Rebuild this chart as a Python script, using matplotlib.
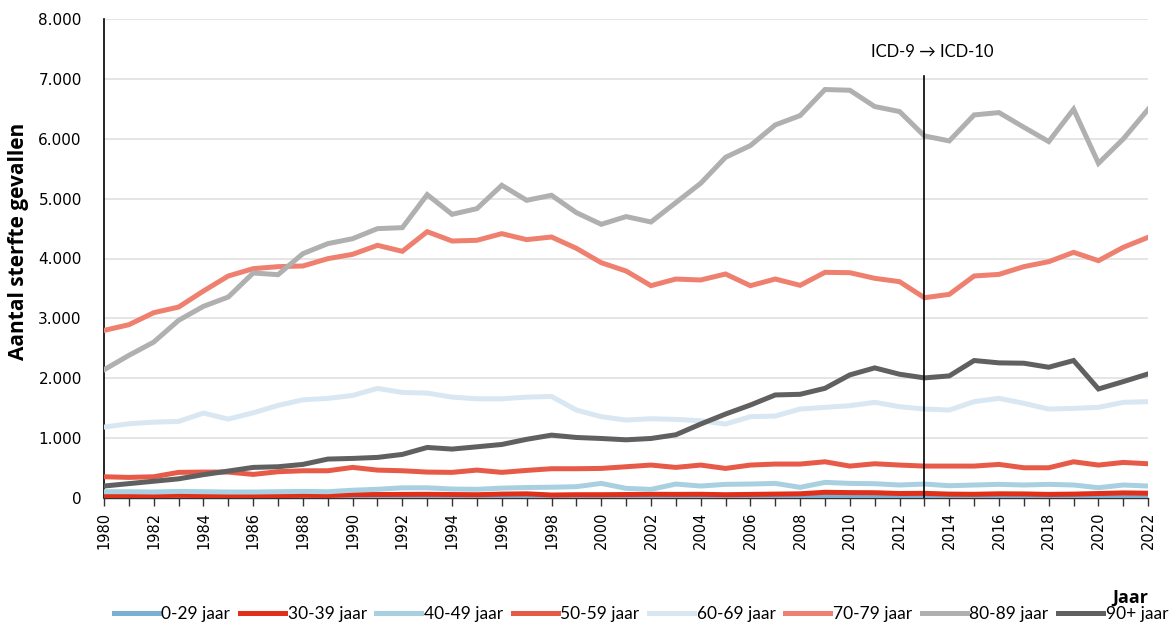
import matplotlib
matplotlib.use("Agg")
import matplotlib.pyplot as plt
import numpy as np

years = list(range(1980, 2023))

age_0_29 = [15, 15, 14, 15, 14, 14, 13, 14, 13, 12, 14, 15, 14, 15, 14, 13, 14, 15, 12, 12,
            13, 14, 15, 16, 17, 16, 18, 20, 22, 35, 38, 36, 25, 20, 18, 17, 18, 17, 16, 15, 15, 18, 16]
age_30_39 = [40, 42, 38, 45, 40, 42, 38, 40, 45, 42, 55, 58, 60, 62, 58, 55, 65, 70, 50, 55,
             55, 58, 62, 60, 62, 55, 60, 65, 70, 95, 90, 88, 75, 78, 65, 62, 70, 68, 60, 65, 75, 85, 80]
age_40_49 = [105, 105, 100, 110, 105, 100, 100, 105, 110, 105, 130, 145, 170, 170, 150, 145, 165, 175, 180, 189,
             244, 161, 144, 233, 200, 228, 233, 244, 178, 261, 244, 239, 217, 233, 205, 217, 228, 217, 228, 217, 172, 217, 200]
age_50_59 = [355, 344, 355, 428, 433, 433, 394, 439, 455, 455, 511, 466, 455, 433, 428, 466, 428, 461, 489, 489,
             494, 522, 550, 511, 550, 494, 550, 567, 567, 605, 533, 572, 550, 533, 533, 533, 561, 505, 505, 605, 550, 594, 572]
age_60_69 = [1184, 1240, 1267, 1279, 1418, 1318, 1423, 1546, 1640, 1663, 1713, 1830, 1763, 1752, 1685, 1657, 1657, 1685, 1696, 1469,
             1358, 1302, 1324, 1313, 1290, 1235, 1358, 1369, 1486, 1514, 1542, 1598, 1525, 1486, 1469, 1609, 1665, 1581, 1486, 1497, 1514, 1598, 1609]
age_70_79 = [2799, 2894, 3095, 3189, 3457, 3708, 3830, 3864, 3875, 3997, 4070, 4220, 4120, 4448, 4292, 4304, 4415, 4315, 4359, 4170,
             3930, 3791, 3546, 3657, 3641, 3741, 3546, 3657, 3552, 3769, 3763, 3669, 3613, 3345, 3401, 3708, 3735, 3864, 3947, 4103, 3964, 4187, 4354]
age_80_89 = [2142, 2382, 2604, 2967, 3201, 3357, 3758, 3730, 4081, 4248, 4331, 4499, 4515, 5067, 4738, 4833, 5223, 4972, 5056, 4766,
             4571, 4700, 4610, 4933, 5256, 5690, 5886, 6231, 6387, 6822, 6810, 6538, 6454, 6047, 5964, 6398, 6437, 6192, 5953, 6493, 5590, 5997, 6493]
age_90_plus = [200, 240, 280, 320, 390, 450, 511, 522, 561, 650, 661, 678, 728, 844, 817, 855, 894, 980, 1050, 1011,
               994, 972, 994, 1056, 1235, 1402, 1553, 1721, 1732, 1832, 2056, 2173, 2067, 2006, 2039, 2296, 2257, 2251, 2184, 2296, 1821, 1944, 2073]

labels = ["0-29 jaar", "30-39 jaar", "40-49 jaar", "50-59 jaar", "60-69 jaar", "70-79 jaar", "80-89 jaar", "90+ jaar"]
series = [age_0_29, age_30_39, age_40_49, age_50_59, age_60_69, age_70_79, age_80_89, age_90_plus]
colors = ["#7bb0d5", "#e0301a", "#a9d0e0", "#e85a48", "#d9e7f2", "#ef8070", "#b0b0b0", "#606060"]

yticks = [0, 1000, 2000, 3000, 4000, 5000, 6000, 7000, 8000]
ytick_labels = ["0", "1.000", "2.000", "3.000", "4.000", "5.000", "6.000", "7.000", "8.000"]
icd_year = 2013
icd_text = "ICD-9 \u2192 ICD-10"

fig = plt.figure(figsize=(11.74, 6.25), dpi=100)
ax = fig.add_axes([0.0886, 0.2032, 0.978 - 0.0886, 0.9696 - 0.2032])

draw_order = [6, 5, 4, 7, 3, 2, 1, 0]
handles = {}
for i in draw_order:
    (h,) = ax.plot(years, series[i], color=colors[i], lw=3.6, label=labels[i],
                   solid_joinstyle="miter", zorder=3 + i * 0.01)
    handles[i] = h

ax.set_xlim(1980, 2022)
ax.set_ylim(0, 8000)
ax.set_yticks(yticks)
ax.set_yticklabels(ytick_labels, fontsize=11)
ax.tick_params(axis="y", length=0, pad=16)
ax.set_xticks(years, minor=False)
ax.set_xticklabels([str(y) if y % 2 == 0 else "" for y in years], rotation=90, fontsize=10.5)
ax.tick_params(axis="x", length=6, width=1, direction="out", color="#333333", pad=4)
ax.grid(axis="y", color="#e0e0e0", lw=1.2, zorder=0)
ax.set_axisbelow(True)
for s in ["top", "right"]:
    ax.spines[s].set_visible(False)
ax.spines["left"].set_color("black")
ax.spines["left"].set_linewidth(1.2)
ax.spines["bottom"].set_color("#333333")
ax.spines["bottom"].set_linewidth(1.0)

ax.plot([icd_year, icd_year], [0, 7050], color="black", lw=1.2, zorder=10)
ax.text(icd_year + 0.3, 7450, icd_text, ha="center", va="center", fontsize=12,
        family=["Lato", "DejaVu Sans"])

ax.set_ylabel("Aantal sterfte gevallen", fontsize=15, fontweight="bold",
              family=["Open Sans", "DejaVu Sans"])
ax.yaxis.set_label_coords(-0.072, 0.535)
fig.text(0.978, 1 - 598 / 625, "Jaar", ha="right", va="center", fontsize=13, fontweight="bold",
         family=["Open Sans", "DejaVu Sans"])

leg = fig.legend([handles[i] for i in range(8)], labels, loc="center", ncol=8,
                 bbox_to_anchor=(0.546, 1 - 614 / 625), frameon=False,
                 prop={"family": ["Lato", "DejaVu Sans"], "size": 12.5},
                 handlelength=2.6, handletextpad=0.15, columnspacing=0.55)

fig.savefig("out.png", dpi=100)
